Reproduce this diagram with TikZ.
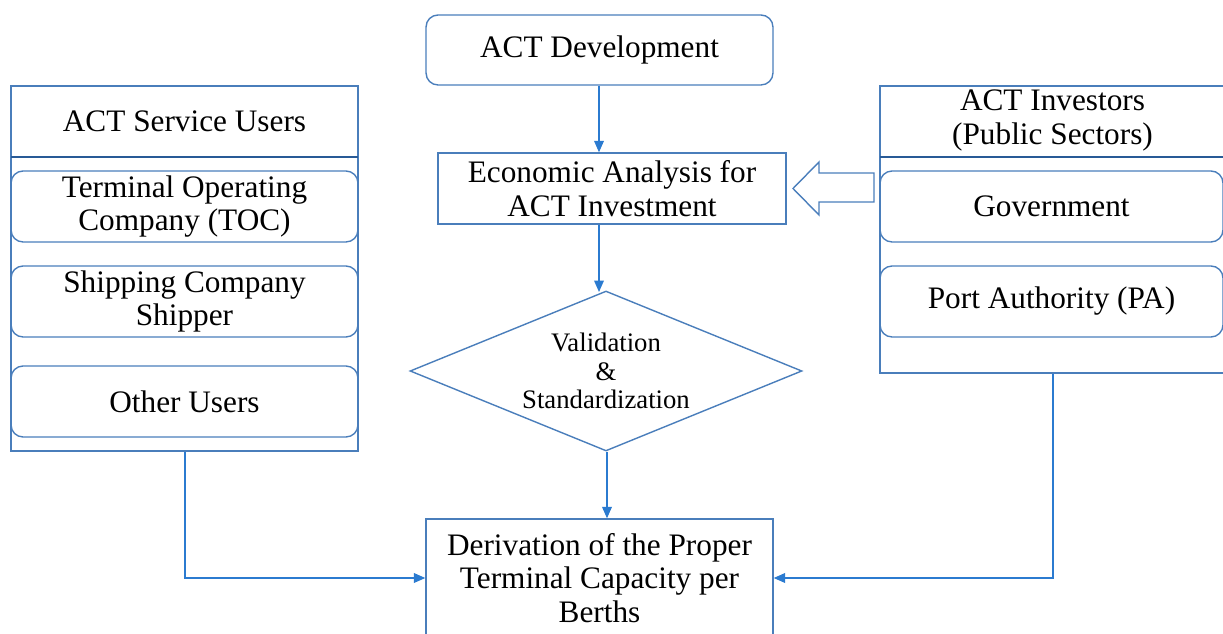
\documentclass[tikz,border=0pt]{standalone}
\usepackage{fontspec}
\setmainfont{Liberation Serif}
\usetikzlibrary{arrows.meta,shapes.geometric}
\definecolor{boxline}{RGB}{74,126,187}
\definecolor{divline}{RGB}{40,90,150}
\definecolor{arrowline}{RGB}{43,123,208}
\tikzset{
  px/.style={x=0.02cm,y=-0.02cm},
  bigtext/.style={font=\fontsize{17.8}{19}\selectfont, align=center, text=black},
  plainbox/.style={draw=boxline, line width=0.8pt, rectangle, inner sep=0pt, bigtext},
  roundbox/.style={plainbox, rounded corners=0.24cm},
  panel/.style={draw=boxline, line width=0.8pt, rectangle, inner sep=0pt},
  decision/.style={draw=boxline, line width=0.8pt, diamond, aspect=2.45, inner sep=0pt,
    minimum width=7.84cm, minimum height=3.2cm, align=center,
    font=\fontsize{15.2}{16.4}\selectfont},
  flow/.style={draw=arrowline, line width=0.8pt, -{Triangle[length=6.5pt,width=5.5pt]}},
  divider/.style={draw=divline, line width=1.2pt},
}
\begin{document}
\begin{tikzpicture}[px]
\useasboundingbox (0,0) rectangle (1223,634);
\clip (0,0) rectangle (1223,634);

% central column
\node[roundbox, minimum width=6.94cm, minimum height=1.4cm] (dev) at (599.5,50) {ACT Development};
\node[plainbox, minimum width=6.96cm, minimum height=1.42cm] (econ) at (612,188.5)
  {Economic Analysis for\\ACT Investment};
\node[decision] (valid) at (606,371) {Validation\\\&\\Standardization};
\node[plainbox, minimum width=6.94cm, minimum height=2.36cm] (deriv) at (599.5,578)
  {Derivation of the Proper\\Terminal Capacity per\\Berths};

% service users panel
\node[panel, minimum width=6.94cm, minimum height=7.3cm] (users) at (184.5,268.5) {};
\node[bigtext] (usershead) at (184.5,121) {ACT Service Users};
\coordinate (udl) at (11,157);
\coordinate (udr) at (358,157);
\draw[divider] (udl) -- (udr);
\node[roundbox, minimum width=6.94cm, minimum height=1.42cm] (toc) at (184.5,206.5)
  {Terminal Operating\\Company (TOC)};
\node[roundbox, minimum width=6.94cm, minimum height=1.42cm] (ship) at (184.5,301.5)
  {Shipping Company\\Shipper};
\node[roundbox, minimum width=6.94cm, minimum height=1.42cm] (other) at (184.5,401.5)
  {Other Users};

% investors panel
\node[panel, minimum width=7.04cm, minimum height=5.74cm] (inv) at (1056,229.5) {};
\node[bigtext] (invhead) at (1052.5,120.5) {ACT Investors\\(Public Sectors)};
\coordinate (idl) at (880,157);
\coordinate (idr) at (1232,157);
\draw[divider] (idl) -- (idr);
\node[roundbox, minimum width=6.86cm, minimum height=1.42cm] (gov) at (1051.5,206.5)
  {Government};
\node[roundbox, minimum width=6.86cm, minimum height=1.42cm] (pa) at (1051.5,301.5)
  {Port Authority (PA)};

% hollow block arrow from investors to the analysis box
\coordinate (bt1) at (874,173);
\coordinate (bt2) at (874,202);
\coordinate (btip) at (793,188.5);
\draw[draw=boxline, line width=0.8pt, fill=white]
  (bt1) -- (819,173) -- (819,162) -- (btip) -- (819,215)
  -- (819,202) -- (bt2) -- cycle;

% flow connectors
\draw[flow] (dev.south -| 599,0) -- (econ.north -| 599,0);
\draw[flow] (econ.south -| 599,0) -- (599,292);
\draw[flow] (valid.south -| 607,0) -- (deriv.north -| 607,0);
\coordinate (ul) at (185,578);
\draw[flow] (users.south -| ul) -- (ul) -- (deriv.west);
\coordinate (ir) at (1053,578);
\draw[flow] (inv.south -| ir) -- (ir) -- (deriv.east);
\end{tikzpicture}
\end{document}
